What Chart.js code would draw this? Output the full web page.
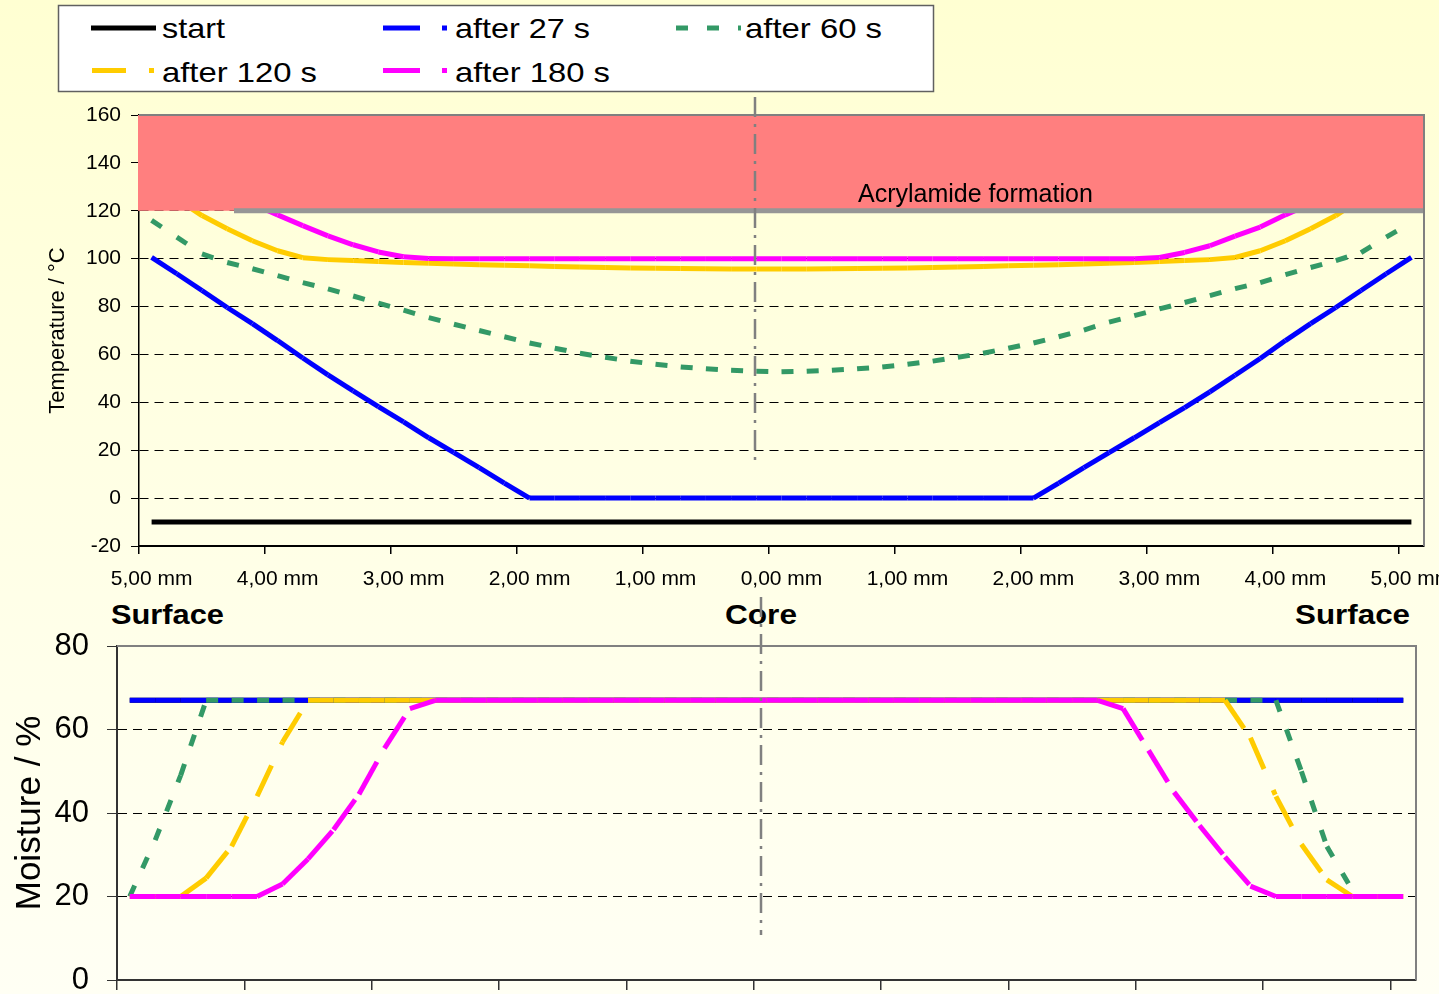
<!DOCTYPE html>
<html>
<head>
<meta charset="utf-8">
<title>Temperature and moisture profiles</title>
<script src="https://cdn.jsdelivr.net/npm/chart.js@4.4.1/dist/chart.umd.min.js"></script>
<style>
  html, body { margin: 0; padding: 0; }
  body {
    width: 1439px; height: 994px; overflow: hidden; position: relative;
    background: linear-gradient(to bottom, #FFFFD2 0%, #FFFFE2 40%, #FFFFF4 100%);
    font-family: 'Liberation Sans', Arial, sans-serif;
  }
  svg, canvas { position: absolute; left: 0; top: 0; }
</style>
</head>
<body>
<svg id="annot" width="1439" height="994" xmlns="http://www.w3.org/2000/svg"></svg>
<canvas id="temp" width="1439" height="994"></canvas>
<canvas id="moist" width="1439" height="994"></canvas>
<script>
// Depth from the surface (mm), surface -> core -> surface
const depthMm = [5.0,4.8,4.6,4.4,4.2,4.0,3.8,3.6,3.4,3.2,3.0,2.8,2.6,2.4,2.2,2.0,1.8,1.6,1.4,1.2,1.0,0.8,0.6,0.4,0.2,
                 0.0,
                 0.2,0.4,0.6,0.8,1.0,1.2,1.4,1.6,1.8,2.0,2.2,2.4,2.6,2.8,3.0,3.2,3.4,3.6,3.8,4.0,4.2,4.4,4.6,4.8,5.0];

const seriesNames = ['start', 'after 27 s', 'after 60 s', 'after 120 s', 'after 180 s'];

// Temperature (°C)
const tempStart = [-10,-10,-10,-10,-10,-10,-10,-10,-10,-10,-10,-10,-10,-10,-10,-10,-10,-10,-10,-10,-10,-10,-10,-10,-10,
                   -10,
                   -10,-10,-10,-10,-10,-10,-10,-10,-10,-10,-10,-10,-10,-10,-10,-10,-10,-10,-10,-10,-10,-10,-10,-10,-10];
const temp27s = [100.5,93.7,86.7,79.6,72.9,65.8,58.5,51.5,44.8,38.2,31.8,25.2,19.0,12.7,6.3,0,
                 0,0,0,0,0,0,0,0,0,0,0,0,0,0,0,0,0,0,0,
                 0,6.3,12.7,19.0,25.2,31.5,37.8,44.4,51.3,58.3,65.8,72.9,79.6,86.7,93.7,100.5];
const temp60s = [116,109,102,98.4,95.8,92.9,90,87.4,84.4,81.4,78.5,75.4,72.6,70,67.4,64.8,62.6,60.5,58.8,57.2,55.9,54.8,54.0,53.4,53.0,
                 52.8,
                 53.0,53.4,54.0,54.8,55.9,57.2,58.8,60.5,62.6,64.8,67.4,70.2,73.5,76.2,79,81.7,84.6,87.5,90,93.3,96.3,99.2,102.5,109,115];
const temp120s = [133,125,118,112.5,107.5,103.3,100.4,99.6,99.2,98.8,98.4,98.1,97.8,97.5,97.2,97.0,96.7,96.5,96.3,96.1,96.0,95.9,95.8,95.7,95.7,
                  95.7,
                  95.7,95.8,95.9,96.0,96.1,96.3,96.5,96.7,97.0,97.2,97.5,97.8,98.1,98.4,98.8,99.2,99.6,100.5,103.3,107.5,112.5,118,125,133];
const temp180s = [146,140,134,128,123,118.3,113.8,109.5,105.8,102.8,100.8,100.1,
                  100,100,100,100,100,100,100,100,100,100,100,100,100,100,100,100,100,100,100,100,100,100,100,100,100,100,100,
                  100,100.5,102.6,105.4,109.4,113.2,118.3,123,128,134,140,146];

// Moisture (%)
const moistStart = [67,67,67,67,67,67,67,67,67,67,67,67,67,67,67,67,67,67,67,67,67,67,67,67,67,
                    67,
                    67,67,67,67,67,67,67,67,67,67,67,67,67,67,67,67,67,67,67,67,67,67,67,67,67];
const moist27s = [67,67,67,67,67,67,67,67,67,67,67,67,67,67,67,67,67,67,67,67,67,67,67,67,67,
                  67,
                  67,67,67,67,67,67,67,67,67,67,67,67,67,67,67,67,67,67,67,67,67,67,67,67,67];
const moist60s = [20,33.5,49,
                  67,67,67,67,67,67,67,67,67,67,67,67,67,67,67,67,67,67,67,67,67,67,67,67,67,67,67,67,67,67,67,67,67,67,67,67,67,67,67,67,67,67,67,
                  50,32,21.5];
const moist120s = [20,20,20,24.4,32,44,57,
                   67,67,67,67,67,67,67,67,67,67,67,67,67,67,67,67,67,67,67,67,67,67,67,67,67,67,67,67,67,67,67,67,67,67,67,67,67,
                   58,44,32.5,24,20,20,20];
const moist180s = [20,20,20,20,20,20,
                   23,29,36,44.5,55.5,65,
                   67,67,67,67,67,67,67,67,67,67,67,67,67,67,67,67,67,67,67,67,67,67,67,67,67,67,67,
                   65,55,45,37,29.5,22.5,
                   20,20,20,20,20,20];

// Styling
const seriesColors = ['#000000', '#0000FF', '#339966', '#FFCC00', '#FF00FF'];
const seriesDash = [[], [37, 22, 5, 22], [12, 19], [34, 23, 5, 23], [37, 22, 5, 22]];
const FONT = "'Liberation Sans', Arial, sans-serif";

const depthLabels = depthMm.map(d => d.toFixed(2).replace('.', ',') + ' mm');

Chart.defaults.font.family = FONT;
Chart.defaults.color = '#000';

// Patterned series are stroked segment by segment so the dash restarts at every point
function makeDatasets(series) {
  return series.map((data, k) => {
    const ds = {
      label: seriesNames[k],
      data: data,
      borderColor: seriesColors[k],
      borderDash: seriesDash[k],
      borderWidth: 5,
      borderCapStyle: 'butt',
      pointRadius: 0,
      fill: false,
      order: series.length - k
    };
    if (seriesDash[k].length) {
      ds.segment = { borderDashOffset: c => c.p0DataIndex * 1e-6 };
    }
    return ds;
  });
}

const transparent = 'rgba(0,0,0,0)';

function frameAndCore(ctx, a, coreX, y0, y1) {
  ctx.save();
  ctx.strokeStyle = '#808080';
  ctx.lineWidth = 2;
  ctx.beginPath();
  ctx.moveTo(a.left, a.top);
  ctx.lineTo(a.right, a.top);
  ctx.lineTo(a.right, a.bottom);
  ctx.stroke();
  ctx.lineWidth = 2.5;
  ctx.setLineDash([20, 7, 3, 7]);
  ctx.beginPath();
  ctx.moveTo(coreX, y0);
  ctx.lineTo(coreX, y1);
  ctx.stroke();
  ctx.restore();
}

// Acrylamide zone above 120 °C, plus the core marker
const tempDecor = {
  id: 'tempDecor',
  afterDatasetsDraw(chart) {
    const { ctx, chartArea: a, scales: { y } } = chart;
    const yTop = y.getPixelForValue(160);
    const y120 = y.getPixelForValue(120);
    ctx.save();
    ctx.fillStyle = '#FF7F7F';
    ctx.fillRect(a.left - 1, yTop, a.right - a.left, y120 - yTop);
    ctx.strokeStyle = '#969696';
    ctx.lineWidth = 5;
    ctx.beginPath();
    ctx.moveTo(a.left + 95, y120);
    ctx.lineTo(a.right - 1, y120);
    ctx.stroke();
    ctx.fillStyle = '#000';
    ctx.font = '25px ' + FONT;
    ctx.textAlign = 'left';
    ctx.textBaseline = 'alphabetic';
    ctx.fillText('Acrylamide formation', 858, 201.5);
    ctx.restore();
  },
  afterDraw(chart) {
    frameAndCore(chart.ctx, chart.chartArea, 755, 97, 465);
  }
};

const moistDecor = {
  id: 'moistDecor',
  afterDraw(chart) {
    frameAndCore(chart.ctx, chart.chartArea, 761, 597, 935);
  }
};

new Chart(document.getElementById('temp'), {
  type: 'line',
  data: { labels: depthLabels, datasets: makeDatasets([tempStart, temp27s, temp60s, temp120s, temp180s]) },
  options: {
    responsive: false,
    animation: false,
    devicePixelRatio: 1,
    layout: { padding: { left: 0, top: 115, right: 15, bottom: 398 } },
    plugins: { legend: { display: false }, tooltip: { enabled: false } },
    scales: {
      x: {
        type: 'category',
        offset: true,
        grid: {
          offset: true, drawOnChartArea: false, drawTicks: true, tickLength: 8, lineWidth: 1.5,
          color: c => (c.index % 5 === 0 ? '#000' : transparent)
        },
        border: { display: true, color: '#000', width: 2 },
        ticks: {
          autoSkip: false, maxRotation: 0, minRotation: 0, padding: 13, color: '#000',
          font: { size: 21 },
          callback: (v, i) => (i % 5 === 0 ? depthLabels[i] : '')
        },
        afterFit: s => { s.height = 50; s.paddingLeft = 0; s.paddingRight = 0; }
      },
      y: {
        min: -20, max: 160,
        ticks: { stepSize: 20, padding: 10, color: '#000', font: { size: 21 } },
        grid: {
          lineWidth: 1, tickLength: 8, tickColor: '#000',
          color: c => (c.tick && (c.tick.value === 160 || c.tick.value === -20) ? transparent : '#000')
        },
        border: { display: true, color: '#000', width: 1.5, dash: [9, 6] },
        title: { display: true, text: 'Temperature / °C', color: '#000', font: { size: 22 }, padding: { top: 45, bottom: 0 } },
        afterFit: s => { s.width = 139; s.paddingTop = 0; s.paddingBottom = 0; }
      }
    }
  },
  plugins: [tempDecor]
});

new Chart(document.getElementById('moist'), {
  type: 'line',
  data: { labels: depthLabels, datasets: makeDatasets([moistStart, moist27s, moist60s, moist120s, moist180s]) },
  options: {
    responsive: false,
    animation: false,
    devicePixelRatio: 1,
    layout: { padding: { left: 0, top: 646, right: 23, bottom: 0 } },
    plugins: { legend: { display: false }, tooltip: { enabled: false } },
    scales: {
      x: {
        type: 'category',
        offset: true,
        grid: {
          offset: true, drawOnChartArea: false, drawTicks: true, tickLength: 10, lineWidth: 1.5,
          color: c => (c.index % 5 === 0 ? '#333' : transparent)
        },
        border: { display: true, color: '#333', width: 2 },
        ticks: { autoSkip: false, maxRotation: 0, minRotation: 0, callback: () => '' },
        afterFit: s => { s.height = 14; s.paddingLeft = 0; s.paddingRight = 0; }
      },
      y: {
        min: 0, max: 80,
        ticks: { stepSize: 20, padding: 18, color: '#000', font: { size: 31 } },
        grid: {
          lineWidth: 1, tickLength: 10, tickColor: '#333',
          color: c => (c.tick && (c.tick.value === 80 || c.tick.value === 0) ? transparent : '#000')
        },
        border: { display: true, color: '#333', width: 2, dash: [9, 6] },
        title: { display: true, text: 'Moisture / %', color: '#000', font: { size: 35 }, padding: { top: 9, bottom: 0 } },
        afterFit: s => { s.width = 117; s.paddingTop = 0; s.paddingBottom = 0; }
      }
    }
  },
  plugins: [moistDecor]
});

// Legend box and the Surface / Core captions
(function buildAnnotations() {
  const NS = 'http://www.w3.org/2000/svg';
  const svg = document.getElementById('annot');
  function el(tag, attrs, text) {
    const e = document.createElementNS(NS, tag);
    for (const k in attrs) e.setAttribute(k, attrs[k]);
    if (text !== undefined) e.textContent = text;
    svg.appendChild(e);
    return e;
  }
  el('rect', { x: 58.5, y: 5.5, width: 875, height: 86, fill: '#FFFFFF', stroke: '#606060', 'stroke-width': 1.5 });

  const legendSlots = [
    { lx: 91, ly: 28, tx: 162, ty: 38, tw: 63 },
    { lx: 383, ly: 28, tx: 455, ty: 38, tw: 135 },
    { lx: 676, ly: 28, tx: 745, ty: 38, tw: 137 },
    { lx: 92, ly: 70.5, tx: 162, ty: 81.5, tw: 155 },
    { lx: 383, ly: 70.5, tx: 455, ty: 81.5, tw: 155 }
  ];
  seriesNames.forEach((name, k) => {
    const s = legendSlots[k];
    el('line', {
      x1: s.lx, y1: s.ly, x2: s.lx + 65, y2: s.ly,
      stroke: seriesColors[k], 'stroke-width': 5,
      'stroke-dasharray': seriesDash[k].length ? seriesDash[k].join(' ') : 'none'
    });
    el('text', {
      x: s.tx, y: s.ty, 'font-family': FONT, 'font-size': 28, fill: '#000',
      textLength: s.tw, lengthAdjust: 'spacingAndGlyphs'
    }, name);
  });

  const captions = [
    { text: 'Surface', x: 111, w: 113 },
    { text: 'Core', x: 725, w: 72 },
    { text: 'Surface', x: 1295, w: 115 }
  ];
  captions.forEach(c => {
    el('text', {
      x: c.x, y: 624, 'font-family': FONT, 'font-size': 28, 'font-weight': 'bold', fill: '#000',
      textLength: c.w, lengthAdjust: 'spacingAndGlyphs'
    }, c.text);
  });
})();
</script>
</body>
</html>
